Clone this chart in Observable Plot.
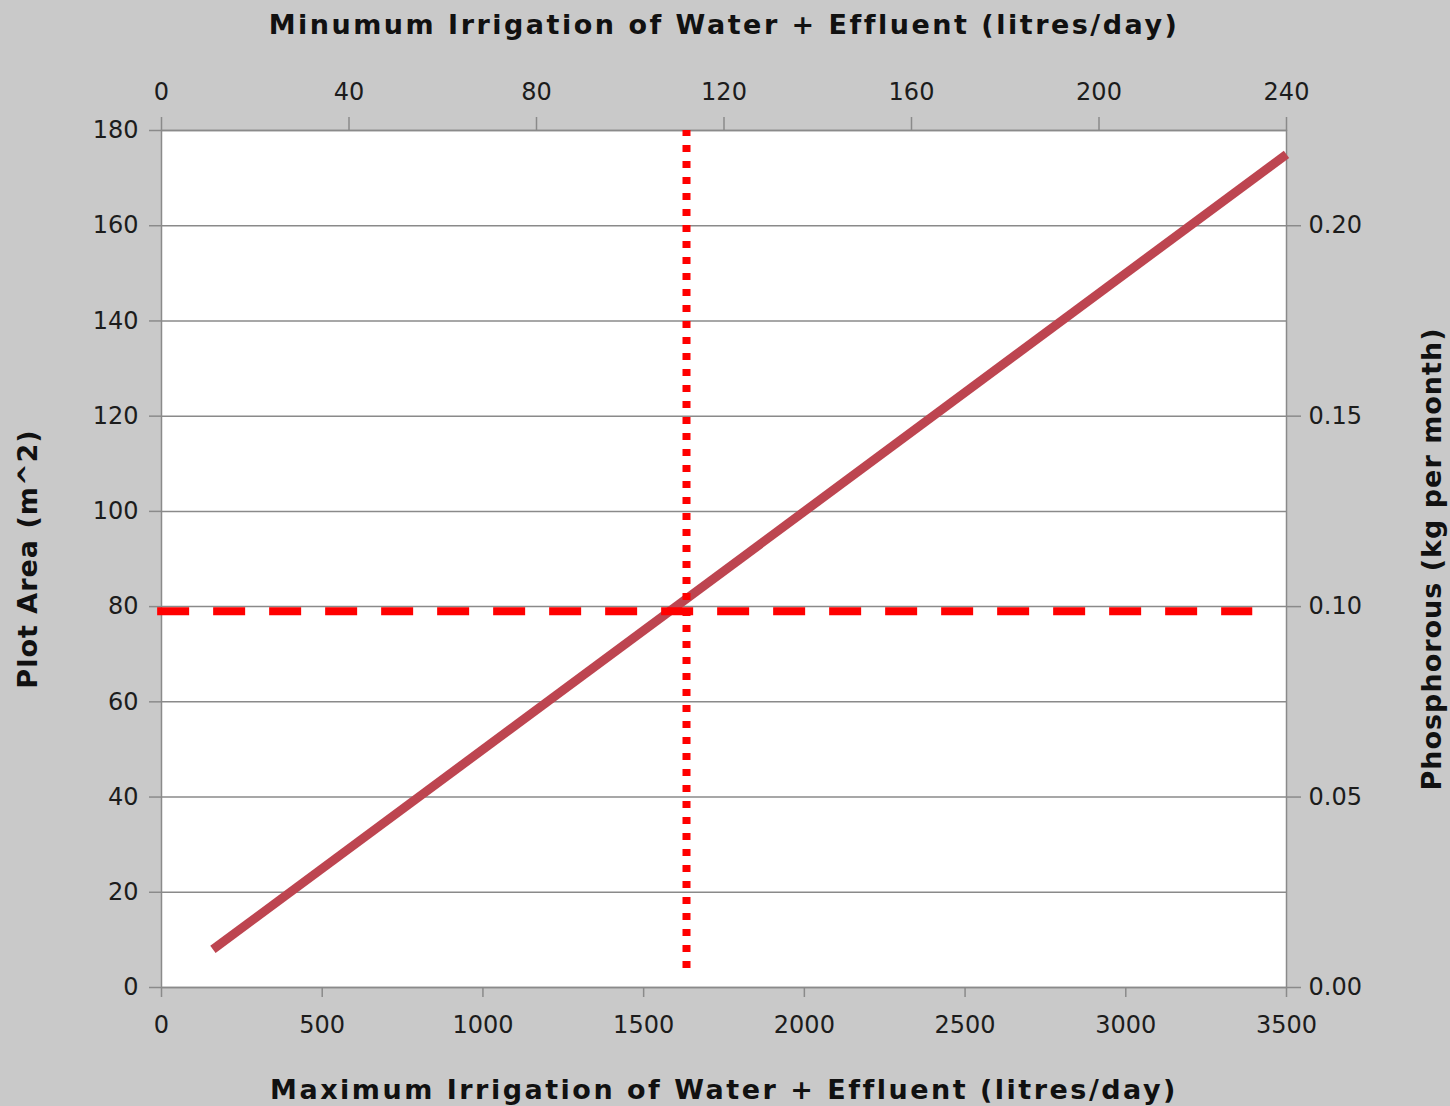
<!DOCTYPE html>
<html>
<head>
<meta charset="utf-8">
<script src="https://cdn.jsdelivr.net/npm/d3@7"></script>
<script src="https://cdn.jsdelivr.net/npm/@observablehq/plot@0.6"></script>
<style>
  html, body { margin: 0; padding: 0; background: #c9c9c9; }
  #chart { width: 1450px; height: 1106px; }
  #chart g[aria-label="text"] text.h-title { letter-spacing: 2.5px; }
  #chart g[aria-label="text"] text.v-title { letter-spacing: 1px; }
</style>
</head>
<body>
<div id="chart"></div>
<script>
// ---- Data ----
const areaTicks = [0, 20, 40, 60, 80, 100, 120, 140, 160, 180];          // left axis (m^2)
const maxIrrigationTicks = [0, 500, 1000, 1500, 2000, 2500, 3000, 3500]; // bottom axis (litres/day)
const minIrrigationTicks = [0, 40, 80, 120, 160, 200, 240];              // top axis (litres/day)
const phosphorusTicks = [0.00, 0.05, 0.10, 0.15, 0.20];                  // right axis (kg per month)

const maxIrrigationDomain = [0, 3500];
const minIrrigationDomain = [0, 240];
const areaDomain = [0, 180];
const phosphorusDomain = [0, 0.225];

// the plotted series: plot area vs maximum irrigation
const seriesIrrigation = [160, 3500];
const seriesArea = [8, 175];

// reference lines
const markerArea = [79];            // dashed horizontal line (m^2)
const markerAreaFrom = [-12];       // litres/day
const markerAreaTo = [3395];        // litres/day
const markerMinIrrigation = [112];  // dotted vertical line, on the top axis (litres/day)
const markerMinIrrigationFrom = [4];  // m^2
const markerMinIrrigationTo = [180];  // m^2

const titleTop = "Minumum Irrigation of Water + Effluent (litres/day)";
const titleBottom = "Maximum Irrigation of Water + Effluent (litres/day)";
const titleLeft = "Plot Area (m^2)";
const titleRight = "Phosphorous (kg per month)";

// ---- conversions between the secondary axes and the primary scales ----
const topToX = v => v * (maxIrrigationDomain[1] / minIrrigationDomain[1]);
const xToTop = v => v * (minIrrigationDomain[1] / maxIrrigationDomain[1]);
const rightToY = v => v * (areaDomain[1] / phosphorusDomain[1]);
const yToRight = v => v * (phosphorusDomain[1] / areaDomain[1]);

const series = seriesIrrigation.map((x, i) => ({x, y: seriesArea[i]}));
const hLine = markerArea.map((y, i) => ({y, x1: markerAreaFrom[i], x2: markerAreaTo[i]}));
const vLine = markerMinIrrigation.map((t, i) => ({x: topToX(t), y1: markerMinIrrigationFrom[i], y2: markerMinIrrigationTo[i]}));

const gridColor = "#8a8a8a";
const textColor = "#1c1c1c";
const titleStyle = {fontSize: 27, fontWeight: "bold", fill: "#111", lineAnchor: "middle", textAnchor: "middle"};

const chart = Plot.plot({
  width: 1450,
  height: 1106,
  marginLeft: 161,
  marginRight: 164,
  marginTop: 130,
  marginBottom: 119,
  x: {domain: maxIrrigationDomain},
  y: {domain: areaDomain},
  style: {background: "#c9c9c9", fontFamily: "DejaVu Sans", color: textColor},
  marks: [
    Plot.frame({fill: "white", stroke: "none"}),
    Plot.ruleY(areaTicks, {stroke: gridColor, strokeWidth: 1.5}),
    Plot.frame({stroke: gridColor, strokeWidth: 1.5}),
    Plot.axisY(areaTicks, {anchor: "left", tickSize: 12, tickPadding: 11, fontSize: 24, stroke: gridColor, strokeWidth: 1.5, fill: textColor, label: null,
      tickFormat: d => String(d)}),
    Plot.axisY(phosphorusTicks.map(rightToY), {anchor: "right", tickSize: 14, tickPadding: 8, fontSize: 24, stroke: gridColor, strokeWidth: 1.5, fill: textColor, label: null,
      tickFormat: d => yToRight(d).toFixed(2)}),
    Plot.axisX(maxIrrigationTicks, {anchor: "bottom", tickSize: 10, tickPadding: 18, fontSize: 24, stroke: gridColor, strokeWidth: 1.5, fill: textColor, label: null,
      tickFormat: d => String(d)}),
    Plot.axisX(minIrrigationTicks.map(topToX), {anchor: "top", tickSize: 14, tickPadding: 17, fontSize: 24, stroke: gridColor, strokeWidth: 1.5, fill: textColor, label: null,
      tickFormat: d => String(Math.round(xToTop(d)))}),
    Plot.line(series, {x: "x", y: "y", stroke: "#bd4550", strokeWidth: 9, strokeLinecap: "butt"}),
    Plot.ruleY(hLine, {y: "y", x1: "x1", x2: "x2", stroke: "#ff0000", strokeWidth: 8, strokeDasharray: "32,24"}),
    Plot.ruleX(vLine, {x: "x", y1: "y1", y2: "y2", stroke: "#ff0000", strokeWidth: 8, strokeDasharray: "7,9"}),
    Plot.text([titleTop], {text: d => d, frameAnchor: "top", dy: -105, ...titleStyle}),
    Plot.text([titleBottom], {text: d => d, frameAnchor: "bottom", dy: 103, ...titleStyle}),
    Plot.text([titleLeft], {text: d => d, frameAnchor: "left", dx: -133, rotate: -90, ...titleStyle}),
    Plot.text([titleRight], {text: d => d, frameAnchor: "right", dx: 146, rotate: -90, ...titleStyle})
  ]
});
document.getElementById("chart").appendChild(chart);

// letter-spacing to mimic the wide face of the original titles
const titleGroups = chart.querySelectorAll('g[aria-label="text"]');
titleGroups.forEach((g, i) => {
  g.querySelectorAll("text").forEach(t => t.classList.add(i < 2 ? "h-title" : "v-title"));
});
</script>
</body>
</html>
